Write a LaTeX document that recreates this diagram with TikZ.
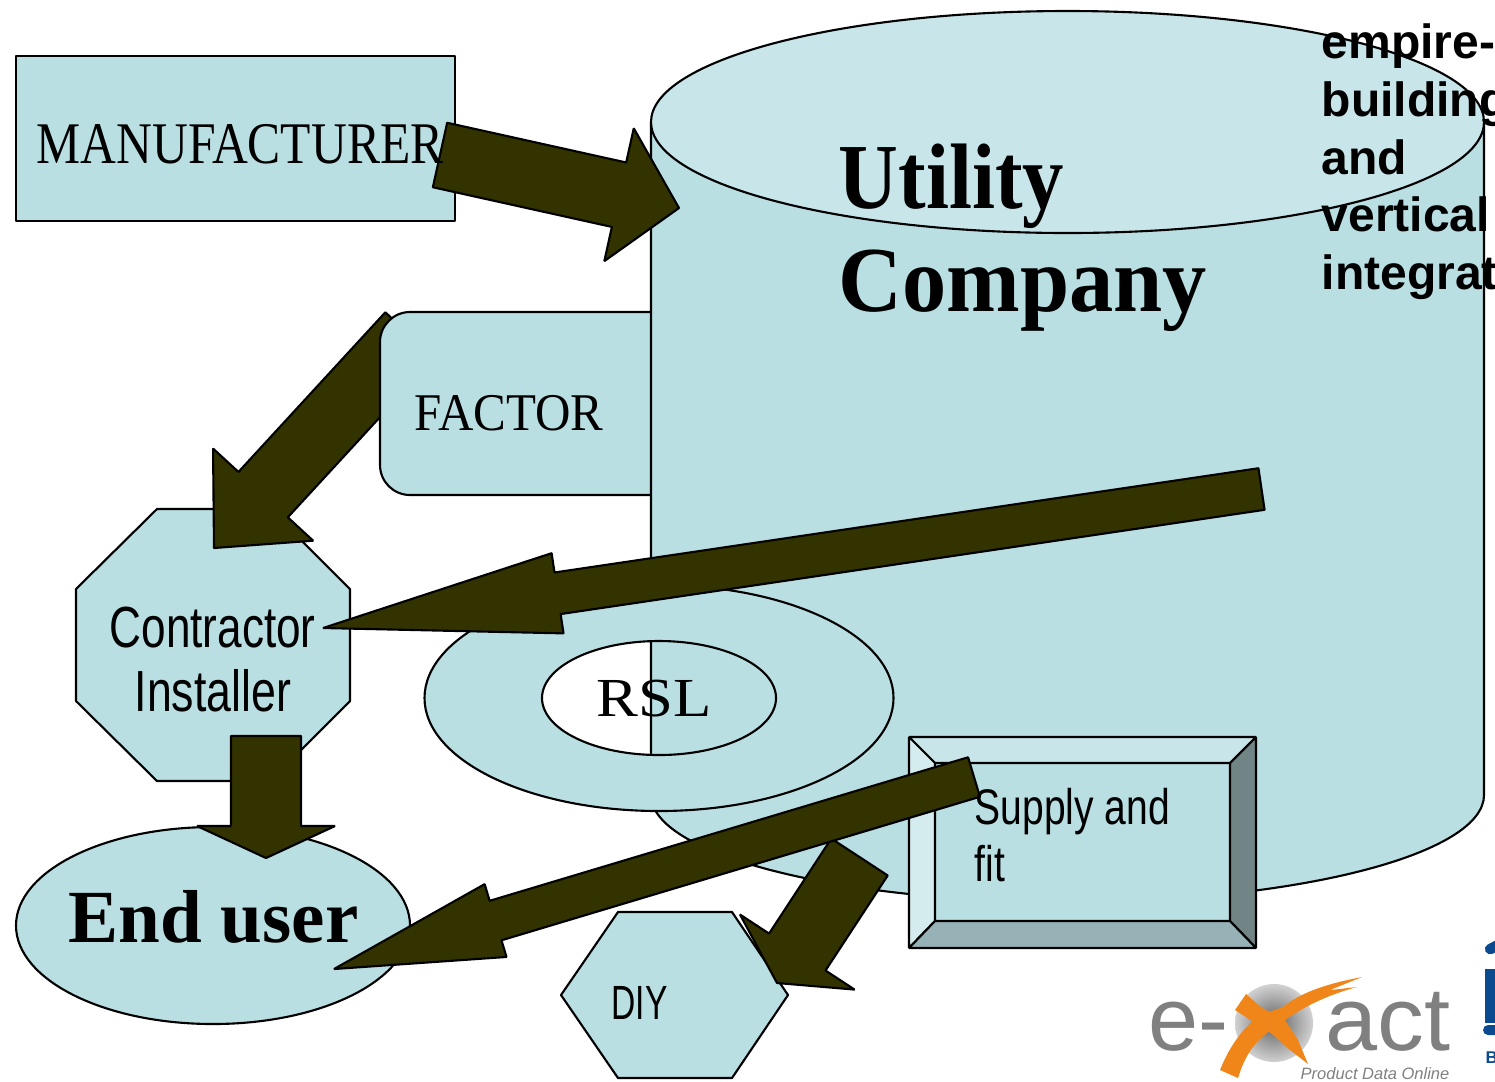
\documentclass[tikz,border=0pt]{standalone}
\usepackage{fontspec}
\usetikzlibrary{calc, positioning}
\setmainfont{Liberation Serif}
\setsansfont{Liberation Sans}
\definecolor{shapeblue}{HTML}{B9DFE3}
\definecolor{capblue}{HTML}{C8E6E9}
\definecolor{bevelleft}{HTML}{D5ECEE}
\definecolor{bevelright}{HTML}{718587}
\definecolor{bevelbottom}{HTML}{97B2B6}
\definecolor{arrowolive}{HTML}{333300}
\definecolor{logogrey}{HTML}{808080}
\definecolor{logoorange}{HTML}{F0861A}
\definecolor{logoblue}{HTML}{0B4A8F}
\tikzset{
  shapefill/.style={draw=black, line width=0.6pt, fill=shapeblue, line join=bevel},
  arrowfill/.style={draw=black, line width=0.6pt, fill=arrowolive, line join=bevel},
  txt/.style={inner sep=0pt, anchor=base west, text=black},
}
% size in reference pixels
\newcommand{\serifpx}[1]{\fontsize{\dimexpr#1pt*2845/10000\relax}{\dimexpr#1pt*34/100\relax}\selectfont\rmfamily}
\newcommand{\sanspx}[1]{\fontsize{\dimexpr#1pt*2845/10000\relax}{\dimexpr#1pt*34/100\relax}\selectfont\sffamily}
% tail, tip, half shaft, half head, head length
\newcommand{\blockarrow}[5]{
  \coordinate (h) at ($(#2)!#5!(#1)$);
  \draw [arrowfill] ($(#1)!#3!90:(#2)$) -- ($(h)!#3!90:(#2)$) -- ($(h)!#4!90:(#2)$) -- (#2)
    -- ($(h)!#4!-90:(#2)$) -- ($(h)!#3!-90:(#2)$) -- ($(#1)!#3!-90:(#2)$) -- cycle;
}
\begin{document}
\begin{tikzpicture}[x=0.01cm, y=-0.01cm]
\useasboundingbox (0,0) rectangle (1495,1081);
% arrow ends
\coordinate (makerTail) at (440,155);
\coordinate (makerTip) at (679,208);
\coordinate (factorTail) at (410,335);
\coordinate (factorTip) at (214,548);
\coordinate (utilityTail) at (1261.5,489);
\coordinate (utilityTip) at (323,628);
\coordinate (installerTail) at (266,736);
\coordinate (installerTip) at (266,858);
\coordinate (supplyTail) at (974,777);
\coordinate (supplyTip) at (334,969);
\coordinate (diyTail) at (859.5,857);
\coordinate (diyTip) at (777,983);
% boxes
\draw [shapefill] (16,56) rectangle (455,221);
\draw [shapefill] (157,509) -- (76,589) -- (76,701) -- (157,781) -- (270,781) -- (350,701) -- (350,589) -- (270,509) -- cycle;
\blockarrow{factorTail}{factorTip}{0.335cm}{0.68cm}{0.725cm}
\draw [shapefill, rounded corners=0.3cm] (380,312) rectangle (720,495);
% cylinder
\draw [shapefill] (651,122) -- (651,795) arc [start angle=180, end angle=0, x radius=416.5, y radius=107] -- (1484,122) -- cycle;
\draw [shapefill, fill=capblue] (1067.5,122) ellipse [x radius=416.5, y radius=111];
\blockarrow{makerTail}{makerTip}{0.33cm}{0.68cm}{0.614cm}
% ring
\draw [shapefill, even odd rule] (659,698) ellipse [x radius=234.5, y radius=113] (659,698) ellipse [x radius=117, y radius=57];
\blockarrow{utilityTail}{utilityTip}{0.21cm}{0.405cm}{2.37cm}
% end user and hexagon
\draw [shapefill] (213,925.5) ellipse [x radius=197, y radius=98.5];
\blockarrow{installerTail}{installerTip}{0.35cm}{0.69cm}{0.32cm}
\draw [shapefill] (561,995) -- (618,912) -- (732,912) -- (788,995) -- (732,1078) -- (618,1078) -- cycle;
\blockarrow{diyTail}{diyTip}{0.337cm}{0.685cm}{0.37cm}
% bevel box
\draw [shapefill] (935,763) rectangle (1230,921);
\draw [shapefill, fill=capblue] (909,737) -- (1256,737) -- (1230,763) -- (935,763) -- cycle;
\draw [shapefill, fill=bevelleft] (909,737) -- (935,763) -- (935,921) -- (909,948) -- cycle;
\draw [shapefill, fill=bevelright] (1256,737) -- (1256,948) -- (1230,921) -- (1230,763) -- cycle;
\draw [shapefill, fill=bevelbottom] (909,948) -- (935,921) -- (1230,921) -- (1256,948) -- cycle;
\blockarrow{supplyTail}{supplyTip}{0.206cm}{0.38cm}{1.686cm}
% labels
\node (manufacturer) [txt, font=\serifpx{59}] at (36,163) {\scalebox{0.84}[1]{MANUFACTURER}};
\node (factor) [txt, font=\serifpx{53}] at (414,430) {\scalebox{0.925}[1]{FACTOR}};
\node (utility) [txt, font=\serifpx{93}\bfseries] at (838,208) {\scalebox{0.89}[1]{Utility}};
\node (company) [txt, font=\serifpx{93}\bfseries] at (838,311) {\scalebox{0.95}[1]{Company}};
\node (rsl) [txt, font=\serifpx{55}] at (596,716) {\scalebox{1.14}[1]{RSL}};
\node (contractor) [txt, font=\sanspx{58}] at (109,647) {\scalebox{0.76}[1]{Contractor}};
\node (installer) [txt, font=\sanspx{58}] at (134,711) {\scalebox{0.77}[1]{Installer}};
\node (enduser) [txt, font=\serifpx{75}\bfseries] at (68,942) {End user};
\node (supply) [txt, font=\sanspx{50}] at (974,824) {\scalebox{0.78}[1]{Supply and}};
\node (fit) [txt, font=\sanspx{50}] at (974,881) {\scalebox{0.78}[1]{fit}};
\node (diy) [txt, font=\sanspx{48}] at (611,1019) {\scalebox{0.7}[1]{DIY}};
\node (empire) [txt, font=\sanspx{48}\bfseries] at (1321,58) {empire-};
\node (building) [txt, font=\sanspx{48}\bfseries] at (1321,116) {building};
\node (and) [txt, font=\sanspx{48}\bfseries] at (1321,174) {and};
\node (vertical) [txt, font=\sanspx{48}\bfseries] at (1321,231) {vertical};
\node (integration) [txt, font=\sanspx{48}\bfseries] at (1321,289) {integration};
% logo
\shade [inner color=black!62, outer color=black!18] (1274,1023) circle (39);
\fill [logoorange] (1220,1070) -- (1238,1078) .. controls (1245,1055) and (1255,1040) .. (1275,1027) .. controls (1295,1012) and (1320,997) .. (1357,987) -- (1330,990) -- (1362,977) .. controls (1325,984) and (1300,993) .. (1283,1007) -- (1260,1015) .. controls (1240,1030) and (1228,1050) .. (1220,1070) -- cycle;
\fill [logoorange] (1246,994) -- (1235,1010) -- (1272,1034) -- (1290,1050) -- (1308,1064) -- (1298,1040) -- (1285,1020) -- (1262,1008) -- cycle;
\node (logoe) [txt, font=\sanspx{90}, text=logogrey] at (1148,1050) {e-};
\node (logoact) [txt, font=\sanspx{90}, text=logogrey] at (1325,1050) {\scalebox{1.04}[1]{act}};
\node (logotag) [txt, font=\sanspx{16.5}\itshape, text=logogrey] at (1300,1079) {Product Data Online};
\fill [logoblue, rounded corners=0.05cm] (1483,947) -- (1500,938) -- (1500,950) -- (1488,956) -- cycle;
\fill [logoblue] (1485,969) rectangle (1500,1023);
\fill [logoblue, rounded corners=0.05cm] (1483,1025) rectangle (1500,1035);
\node (logob) [txt, font=\sanspx{17}\bfseries, text=logoblue] at (1485,1063) {B};
\end{tikzpicture}
\end{document}
